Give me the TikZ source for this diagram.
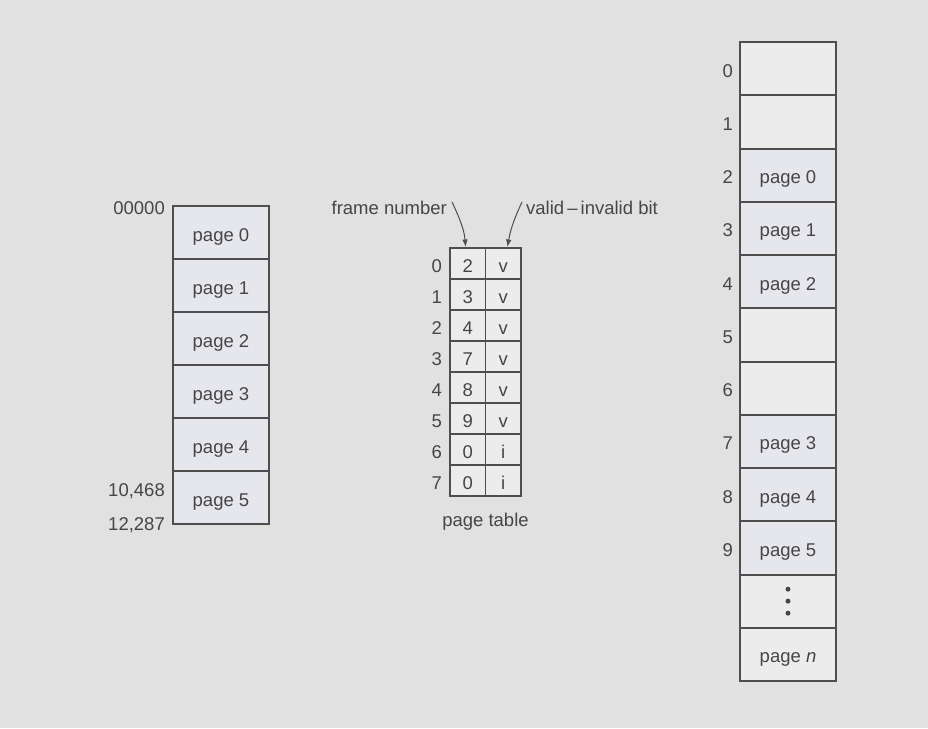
\documentclass[tikz,border=0pt]{standalone}
\usepackage{fontspec}
\setmainfont{Liberation Sans}
\usetikzlibrary{arrows.meta,positioning}
\definecolor{PaperGray}{RGB}{225,225,225}
\definecolor{FreeGray}{RGB}{236,236,236}
\definecolor{PageLilac}{RGB}{230,230,237}
\definecolor{EdgeGray}{RGB}{78,78,78}
\definecolor{InkGray}{RGB}{70,70,70}

\begin{document}
\begin{tikzpicture}[x=1pt,y=-1pt,node distance=0pt,>=Latex,
 every node/.style={text=InkGray,font=\fontsize{18.5}{21}\selectfont},
 pagebox/.style={draw=EdgeGray,line width=2pt,fill=PageLilac,outer sep=0pt,inner sep=0pt,
  minimum width=96pt,minimum height=53pt,text height=17pt,text depth=0pt},
 freebox/.style={pagebox,fill=FreeGray,minimum height=53.25pt},
 usedbox/.style={pagebox,minimum height=53.25pt},
 ptcell/.style={draw=EdgeGray,line width=1.7pt,fill=FreeGray,outer sep=0pt,inner sep=0pt,
  minimum width=35.5pt,minimum height=31pt,text height=17pt,text depth=0pt},
 idx/.style={inner sep=0pt,text height=17pt,text depth=0pt},
 tip/.style={->,draw=EdgeGray,line width=1pt,shorten >=1pt}]
\fill[PaperGray] (0,0) rectangle (928,728);
\useasboundingbox (0,0) rectangle (928,728);

% logical memory
\node[pagebox,anchor=north west] (lp0) at (173,206) {page 0};
\foreach \i [remember=\i as \j (initially 0)] in {1,...,5}
  \node[pagebox,below=of lp\j] (lp\i) {page \i};
\node[idx,anchor=east] (a0) at ([xshift=-8pt]lp0.north west) {00000};
\node[idx,anchor=east] (a1) at ([xshift=-8pt,yshift=10pt]lp5.west) {10,468};
\node[idx,anchor=east] (a2) at ([xshift=-8pt,yshift=2pt]lp5.south west) {12,287};

% page table
\foreach \i/\f/\b in {0/2/v,1/3/v,2/4/v,3/7/v,4/8/v,5/9/v,6/0/i,7/0/i}{
  \node[ptcell,anchor=north west] (pf\i) at (450,{248+31*\i}) {\f};
  \node[ptcell,right=of pf\i] (pb\i) {\b};
  \node[idx,left=8pt of pf\i] (pi\i) {\i};
}
\node[idx,below=13pt of pf7.south east] (ptlabel) {page table};
\node[idx,anchor=east] (fnum) at (447,206) {frame number};
\node[idx,anchor=west] (vbit) at (526,206) {valid\,--\,invalid bit};
\draw[tip] ([xshift=5pt,yshift=4pt]fnum.east) to[out=-65,in=95] ([xshift=-2pt]pf0.north);
\draw[tip] ([xshift=-4pt,yshift=4pt]vbit.west) to[out=-115,in=80] ([xshift=4pt]pb0.north);

% physical memory
\node[freebox,anchor=north west] (f0) at (740,42) {};
\foreach \i/\txt/\sty [remember=\i as \j (initially 0)] in
  {1//freebox,2/page 0/usedbox,3/page 1/usedbox,4/page 2/usedbox,5//freebox,
   6//freebox,7/page 3/usedbox,8/page 4/usedbox,9/page 5/usedbox,10//freebox,
   11/page \emph{n}/freebox}
  \node[\sty,below=of f\j] (f\i) {\txt};
\foreach \i in {0,...,9}
  \node[idx,left=7pt of f\i] (fi\i) {\i};
\foreach \d in {-12,0,12}
  \fill[InkGray] ([yshift=\d pt]f10.center) circle (2.5pt);
\end{tikzpicture}
\end{document}
